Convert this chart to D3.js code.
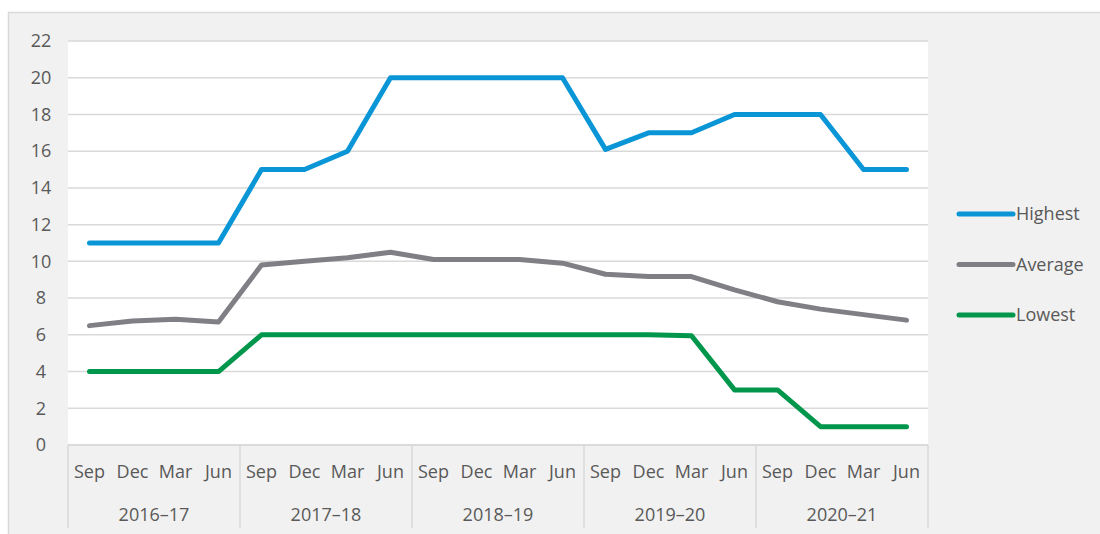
<!DOCTYPE html>
<html>
<head>
<meta charset="utf-8">
<script src="https://cdn.jsdelivr.net/npm/d3@7"></script>
<style>
	html, body { margin: 0; padding: 0; background: #fff; }
	svg { display: block; font-family: "Open Sans", "Liberation Sans", sans-serif; }
</style>
</head>
<body>
<div id="chart"></div>
<script>
/* global d3 */

var years = ["2016–17", "2017–18", "2018–19", "2019–20", "2020–21"],
	months = ["Sep", "Dec", "Mar", "Jun"],
	yTicks = [0, 2, 4, 6, 8, 10, 12, 14, 16, 18, 20, 22],
	highest = [11, 11, 11, 11, 15, 15, 16, 20, 20, 20, 20, 20, 16.1, 17, 17, 18, 18, 18, 15, 15],
	average = [6.5, 6.75, 6.85, 6.7, 9.8, 10.0, 10.2, 10.5, 10.1, 10.1, 10.1, 9.9, 9.3, 9.17, 9.17, 8.45, 7.8, 7.4, 7.1, 6.8],
	lowest = [4, 4, 4, 4, 6, 6, 6, 6, 6, 6, 6, 6, 6, 6, 5.95, 3, 3, 1, 1, 1];

var series = [
	{name: "Highest", values: highest, color: "#0A96D6"},
	{name: "Average", values: average, color: "#7F7F85"},
	{name: "Lowest", values: lowest, color: "#00964B"}
];

(function() {
	'use strict';

	var width = 1100,
		height = 534,
		plotLeft = 68,
		plotRight = 928,
		plotTop = 41,
		plotBottom = 445,
		axisBottom = 528,
		fontSize = 18;

	var cats = [];
	years.forEach(function(yr) {
		months.forEach(function(m) { cats.push(yr + "|" + m); });
	});

	var x = d3.scaleBand().domain(cats).range([plotLeft, plotRight]),
		xYear = d3.scaleBand().domain(years).range([plotLeft, plotRight]),
		y = d3.scaleLinear().domain([0, 22]).range([plotBottom, plotTop]);

	var svg = d3.select("#chart").append("svg")
		.attr("width", width)
		.attr("height", height);

	// chart frame
	svg.append("rect")
		.attr("x", 8.5).attr("y", 12.5)
		.attr("width", width).attr("height", height)
		.attr("fill", "#f1f1f1")
		.attr("stroke", "#d9d9d9")
		.attr("stroke-width", 1.5);

	// plot area
	svg.append("rect")
		.attr("x", plotLeft).attr("y", plotTop)
		.attr("width", plotRight - plotLeft).attr("height", plotBottom - plotTop)
		.attr("fill", "#fff");

	// gridlines
	svg.append("g")
		.selectAll("line")
		.data(yTicks)
		.join("line")
		.attr("x1", plotLeft).attr("x2", plotRight)
		.attr("y1", function(d) { return y(d); })
		.attr("y2", function(d) { return y(d); })
		.attr("stroke", "#d9d9d9")
		.attr("stroke-width", 1.5);

	// y labels
	svg.append("g")
		.selectAll("text")
		.data(yTicks)
		.join("text")
		.attr("x", 41)
		.attr("y", function(d) { return y(d); })
		.attr("dy", "0.35em")
		.attr("text-anchor", "middle")
		.attr("font-size", fontSize)
		.attr("fill", "#595959")
		.text(function(d) { return d; });

	// category axis dividers
	var dividers = years.map(function(yr) { return xYear(yr); }).concat([plotRight]);
	svg.append("g")
		.selectAll("line")
		.data(dividers)
		.join("line")
		.attr("x1", function(d) { return d; })
		.attr("x2", function(d) { return d; })
		.attr("y1", plotBottom).attr("y2", axisBottom)
		.attr("stroke", "#d9d9d9")
		.attr("stroke-width", 1.5);

	svg.append("line")
		.attr("x1", plotLeft).attr("x2", plotRight)
		.attr("y1", plotBottom).attr("y2", plotBottom)
		.attr("stroke", "#d9d9d9")
		.attr("stroke-width", 1.5);

	svg.append("g")
		.selectAll("text")
		.data(cats)
		.join("text")
		.attr("x", function(d) { return x(d) + x.bandwidth() / 2; })
		.attr("y", 472)
		.attr("dy", "0.35em")
		.attr("text-anchor", "middle")
		.attr("font-size", fontSize)
		.attr("fill", "#595959")
		.text(function(d) { return d.split("|")[1]; });

	svg.append("g")
		.selectAll("text")
		.data(years)
		.join("text")
		.attr("x", function(d) { return xYear(d) + xYear.bandwidth() / 2; })
		.attr("y", 515)
		.attr("dy", "0.35em")
		.attr("text-anchor", "middle")
		.attr("font-size", fontSize)
		.attr("fill", "#595959")
		.text(function(d) { return d; });

	// lines
	var line = d3.line()
		.x(function(d, i) { return x(cats[i]) + x.bandwidth() / 2; })
		.y(function(d) { return y(d); });

	svg.append("g")
		.selectAll("path")
		.data(series)
		.join("path")
		.attr("fill", "none")
		.attr("stroke", function(d) { return d.color; })
		.attr("stroke-width", 5)
		.attr("stroke-linejoin", "round")
		.attr("stroke-linecap", "round")
		.attr("d", function(d) { return line(d.values); });

	// legend
	var legend = svg.append("g")
		.selectAll("g")
		.data(series)
		.join("g")
		.attr("transform", function(d, i) { return "translate(959," + (214 + i * 50.5) + ")"; });

	legend.append("line")
		.attr("x1", 0).attr("x2", 54)
		.attr("stroke", function(d) { return d.color; })
		.attr("stroke-width", 5)
		.attr("stroke-linecap", "round");

	legend.append("text")
		.attr("x", 57)
		.attr("dy", "0.35em")
		.attr("font-size", fontSize)
		.attr("fill", "#595959")
		.text(function(d) { return d.name; });
})();
</script>
</body>
</html>
